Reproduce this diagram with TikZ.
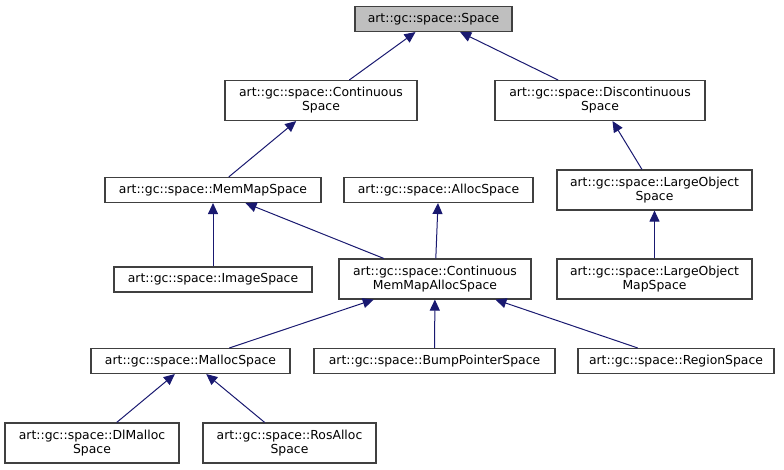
\documentclass[tikz,border=0pt]{standalone}
\usepackage{fontspec}
\setmainfont{DejaVu Sans}
\usetikzlibrary{arrows.meta}
\definecolor{edgeblue}{HTML}{191970}
\definecolor{boxline}{HTML}{404040}
\definecolor{rootfill}{HTML}{BFBFBF}

\begin{document}
\begin{tikzpicture}[x=1pt,y=-1pt,>={Triangle[length=11pt,width=10pt]},
    cls/.style={draw=boxline,line width=1.1pt,fill=white,inner sep=0pt,
      align=center,font=\fontsize{12.4}{14}\selectfont,minimum height=25pt},
    cls2/.style={cls,minimum height=40pt},
    inh/.style={edgeblue,line width=1pt,->}]
  \useasboundingbox (0,0) rectangle (784,469);

  % class boxes, row by row from the base class down
  \node[cls,fill=rootfill,minimum width=157pt] (space) at (433.5,19) {art::gc::space::Space};
  \node[cls2,minimum width=192pt] (cont) at (321,100.5) {art::gc::space::Continuous\\Space};
  \node[cls2,minimum width=210pt] (discont) at (600,100.5) {art::gc::space::Discontinuous\\Space};
  \node[cls,minimum width=216pt] (memmap) at (213,190) {art::gc::space::MemMapSpace};
  \node[cls,minimum width=189pt] (alloc) at (438.5,190) {art::gc::space::AllocSpace};
  \node[cls2,minimum width=195pt] (largeobj) at (654.5,190) {art::gc::space::LargeObject\\Space};
  \node[cls,minimum width=198pt] (image) at (213,279.5) {art::gc::space::ImageSpace};
  \node[cls2,minimum width=192pt] (cmmalloc) at (435,279) {art::gc::space::Continuous\\MemMapAllocSpace};
  \node[cls2,minimum width=195pt] (largemap) at (654.5,279) {art::gc::space::LargeObject\\MapSpace};
  \node[cls,minimum width=199pt] (malloc) at (190.5,361) {art::gc::space::MallocSpace};
  \node[cls,minimum width=241pt] (bump) at (434.5,361) {art::gc::space::BumpPointerSpace};
  \node[cls,minimum width=196pt] (region) at (676,361) {art::gc::space::RegionSpace};
  \node[cls2,minimum width=174pt] (dlmalloc) at (92,443) {art::gc::space::DlMalloc\\Space};
  \node[cls2,minimum width=173pt] (rosalloc) at (289.5,443) {art::gc::space::RosAlloc\\Space};

  % inheritance edges, child to parent
  \draw[inh] (cont) -- (space);
  \draw[inh] (discont) -- (space);
  \draw[inh] (memmap) -- (cont);
  \draw[inh] (largeobj) -- (discont);
  \draw[inh] (image) -- (memmap);
  \draw[inh] (cmmalloc) -- (memmap);
  \draw[inh] (cmmalloc) -- (alloc);
  \draw[inh] (largemap) -- (largeobj);
  \draw[inh] (malloc) -- (cmmalloc);
  \draw[inh] (bump) -- (cmmalloc);
  \draw[inh] (region) -- (cmmalloc);
  \draw[inh] (dlmalloc) -- (malloc);
  \draw[inh] (rosalloc) -- (malloc);
\end{tikzpicture}
\end{document}
